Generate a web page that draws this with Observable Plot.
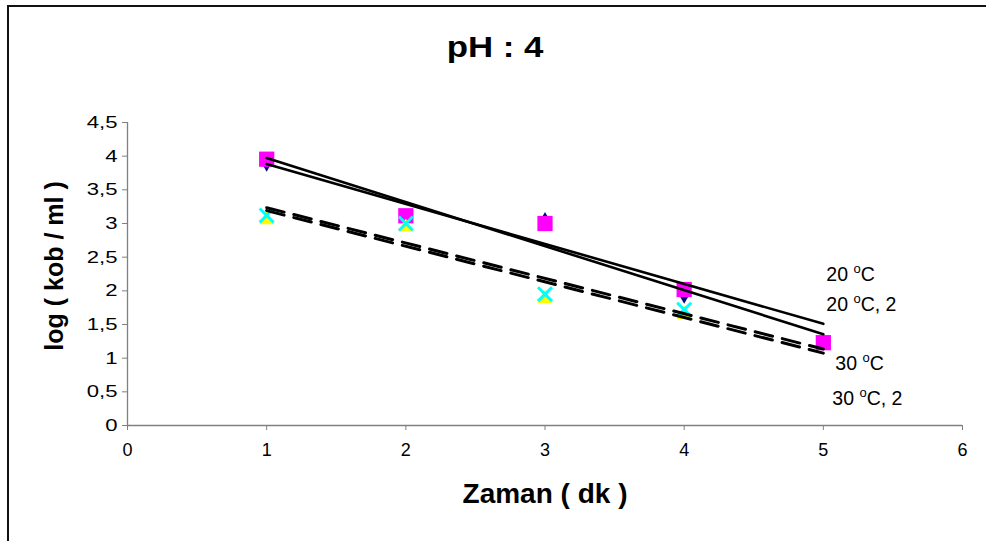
<!DOCTYPE html>
<html><head><meta charset="utf-8">
<script src="https://cdn.jsdelivr.net/npm/d3@7"></script>
<script src="https://cdn.jsdelivr.net/npm/@observablehq/plot@0.6"></script>
<style>
body{margin:0;background:#fff;}
#wrap{position:relative;width:986px;height:541px;overflow:hidden;background:#fff;}
#frame{position:absolute;left:7px;top:5px;width:1100px;height:700px;border-left:2px solid #111;border-top:2px solid #111;pointer-events:none;}
#chart{position:absolute;left:0;top:0;}
</style></head><body>
<div id="wrap"><div id="chart"></div><div id="frame"></div></div>
<script>
// ---- data ----
const times = [1, 2, 3, 4, 5];                 // Zaman (dk)
const s20   = [3.89, 3.10, 3.05, 1.93];        // 20 °C   (navy diamonds)
const s20b  = [3.955, 3.115, 3.00, 2.02, 1.23];// 20 °C, 2 (magenta squares)
const s30   = [3.07, 2.96, 1.90, 1.66];        // 30 °C   (yellow triangles)
const s30b  = [3.12, 3.00, 1.95, 1.72];        // 30 °C, 2 (cyan crosses)
const seriesLabels = ["20 oC", "20 oC, 2", "30 oC", "30 oC, 2"];
const xTicks = [0, 1, 2, 3, 4, 5, 6];
const yTicks = [0, 0.5, 1, 1.5, 2, 2.5, 3, 3.5, 4, 4.5];
const title = "pH : 4";
const xTitle = "Zaman ( dk )";
const yTitle = "log ( kob / ml )";

// ---- helpers ----
const pts = (ys) => ys.map((y, i) => ({x: times[i], y}));
function trend(ys) {
  const xs = times.slice(0, ys.length);
  const mx = d3.mean(xs), my = d3.mean(ys);
  const b = d3.sum(xs, (x, i) => (x - mx) * (ys[i] - my)) / d3.sum(xs, x => (x - mx) ** 2);
  const a = my - b * mx;
  const x0 = times[0], x1 = times[times.length - 1]; // forecast to last time
  return [{x: x0, y: a + b * x0}, {x: x1, y: a + b * x1}];
}
const series = [s20, s20b, s30, s30b];
const trends = series.map(trend);

const font = "'Liberation Sans', Arial, sans-serif";
const labelOffsets = [[3, -49], [3, -30], [12, 11], [9, 50]];

const plot = Plot.plot({
  width: 986, height: 541,
  marginLeft: 127, marginRight: 24, marginTop: 122, marginBottom: 116,
  style: {fontFamily: font, background: "transparent", overflow: "visible"},
  x: {domain: [0, 6]},
  y: {domain: [0, 4.5]},
  marks: [
    Plot.axisX({ticks: xTicks, tickSize: 5, tickPadding: 13, stroke: "#808080", fill: "#000", fontSize: 18, label: null, tickFormat: d => String(d), className: "xticks"}),
    Plot.axisY({ticks: yTicks, tickSize: 5, tickPadding: 5, stroke: "#808080", fill: "#000", fontSize: 17, label: null, tickFormat: d => String(d).replace(".", ","), className: "yticks"}),
    Plot.ruleY([0], {stroke: "#808080", strokeWidth: 1.3}),
    Plot.ruleX([0], {stroke: "#808080", strokeWidth: 1.3}),
    // markers
    Plot.dot(pts(s20),  {x: "x", y: "y", symbol: "diamond", fill: "#000080", r: 5}),
    Plot.dot(pts(s20b), {x: "x", y: "y", symbol: "square", fill: "#FF00FF", r: 8.6}),
    Plot.dot(pts(s30),  {x: "x", y: "y", symbol: "triangle", fill: "#FFFF00", r: 5.6, dy: 1}),
    Plot.dot(pts(s30b), {x: "x", y: "y", symbol: "times", stroke: "#00FFFF", strokeWidth: 3, r: 6.4}),
    // trendlines
    Plot.line(trends[0], {x: "x", y: "y", stroke: "#000", strokeWidth: 2.6}),
    Plot.line(trends[1], {x: "x", y: "y", stroke: "#000", strokeWidth: 2.6}),
    Plot.line(trends[2], {x: "x", y: "y", stroke: "#000", strokeWidth: 3, strokeDasharray: "18,10"}),
    Plot.line(trends[3], {x: "x", y: "y", stroke: "#000", strokeWidth: 3, strokeDasharray: "18,10"}),
    // series labels
    ...seriesLabels.map((lab, i) => Plot.text([lab], {
      x: () => trends[i][1].x, y: () => trends[i][1].y, text: d => d,
      textAnchor: "start", dx: labelOffsets[i][0], dy: labelOffsets[i][1],
      fontSize: 19.5, fill: "#000", className: "serlab"
    })),
    // titles
    Plot.text([title], {frameAnchor: "top", text: d => d, textAnchor: "middle", dx: -50, dy: -86, fontSize: 29, fontWeight: "bold", fill: "#000", className: "ttl"}),
    Plot.text([xTitle], {frameAnchor: "bottom", text: d => d, textAnchor: "middle", dy: 77, fontSize: 28, fontWeight: "bold", fill: "#000"}),
    Plot.text([yTitle], {frameAnchor: "left", text: d => d, textAnchor: "middle", dx: -73, dy: -8, rotate: -90, fontSize: 25, fontWeight: "bold", fill: "#000"})
  ]
});
document.getElementById("chart").appendChild(plot);

// make sure tick label sizes are applied
d3.select(plot).selectAll("g.xticks text").style("font-size", "18px");
d3.select(plot).selectAll("g.yticks text").style("font-size", "17px");

// superscript "o" in the degree labels
d3.select(plot).selectAll("g.serlab text").each(function() {
  const s = this.textContent;
  const [a, b] = s.split("oC");
  const t = d3.select(this);
  t.text(null);
  t.append("tspan").text(a);
  t.append("tspan").attr("dy", -8).attr("font-size", 13).text("o");
  t.append("tspan").attr("dy", 8).text("C" + b);
});
// horizontally widened text (as in the source picture)
function widen(sel, k) {
  d3.select(plot).selectAll(sel).each(function() {
    const L = this.getComputedTextLength();
    this.setAttribute("textLength", L * k);
    this.setAttribute("lengthAdjust", "spacingAndGlyphs");
  });
}
widen("g.yticks text", 1.3);
widen("g.ttl text", 1.2);
</script>
</body></html>
